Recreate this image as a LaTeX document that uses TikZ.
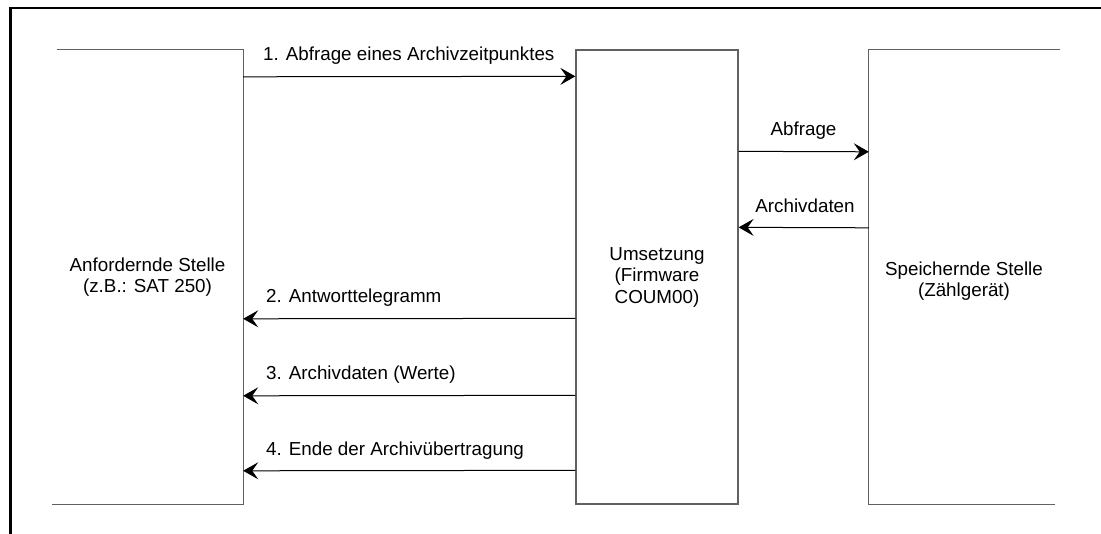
\documentclass[tikz,border=0pt]{standalone}
\usepackage{fontspec}
\setmainfont{Liberation Sans}
\usetikzlibrary{arrows.meta,calc}
\begin{document}
\begin{tikzpicture}[x=1pt,y=-1pt,
  every node/.style={font=\fontsize{18.8}{21.5}\selectfont, inner sep=0pt},
  boxline/.style={draw=black!62, line width=1.3pt},
  msg/.style={draw=black, line width=1pt, -{Stealth[length=15pt,width=17pt,inset=6pt]}},
  lbl/.style={anchor=base west},
  clbl/.style={anchor=base},
  frameline/.style={line width=2.5pt}]
\useasboundingbox (0,0) rectangle (1101,534);
% outer frame
\draw[frameline] (10.5,540) -- (10.5,8) -- (1110,8);
% blocks
\node[minimum width=191pt, minimum height=454pt, align=center] (L) at (147.5,277) {Anfordernde Stelle\\(z.B.: SAT 250)};
\node[boxline, minimum width=162pt, minimum height=454pt, align=center] (M) at (657,277) {Umsetzung\\(Firmware\\COUM00)};
\node[minimum width=191pt, minimum height=454pt] (R) at (964.5,277) {};
\node[align=center] (Rt) at (964,281) {Speichernde Stelle\\(Zählgerät)};
\draw[boxline] ($(L.north west)+(5,0)$) -- (L.north east) -- (L.south east) -- (L.south west);
\draw[boxline] (R.north east) -- (R.north west) -- (R.south west) -- ($(R.south east)+(-5,0)$);
% messages
\draw[msg] ($(L.north east)+(0,27)$) -- ($(M.north west)+(0,27)$);
\draw[msg] ($(M.north east)+(0,102)$) -- ($(R.north west)+(0,102)$);
\draw[msg] ($(R.north west)+(0,178)$) -- ($(M.north east)+(0,178)$);
\draw[msg] ($(M.north west)+(0,269)$) -- ($(L.north east)+(0,269)$);
\draw[msg] ($(M.north west)+(0,346)$) -- ($(L.north east)+(0,346)$);
\draw[msg] ($(M.north west)+(0,421)$) -- ($(L.north east)+(0,421)$);
% labels
\node[lbl] (t1) at (263,61) {1. Abfrage eines Archivzeitpunktes};
\node[clbl] (ta) at (803.5,136) {Abfrage};
\node[clbl] (tb) at (805,213) {Archivdaten};
\node[lbl] (t2) at (266,303) {2. Antworttelegramm};
\node[lbl] (t3) at (266,380) {3. Archivdaten (Werte)};
\node[lbl] (t4) at (266,456) {4. Ende der Archivübertragung};
\end{tikzpicture}
\end{document}
